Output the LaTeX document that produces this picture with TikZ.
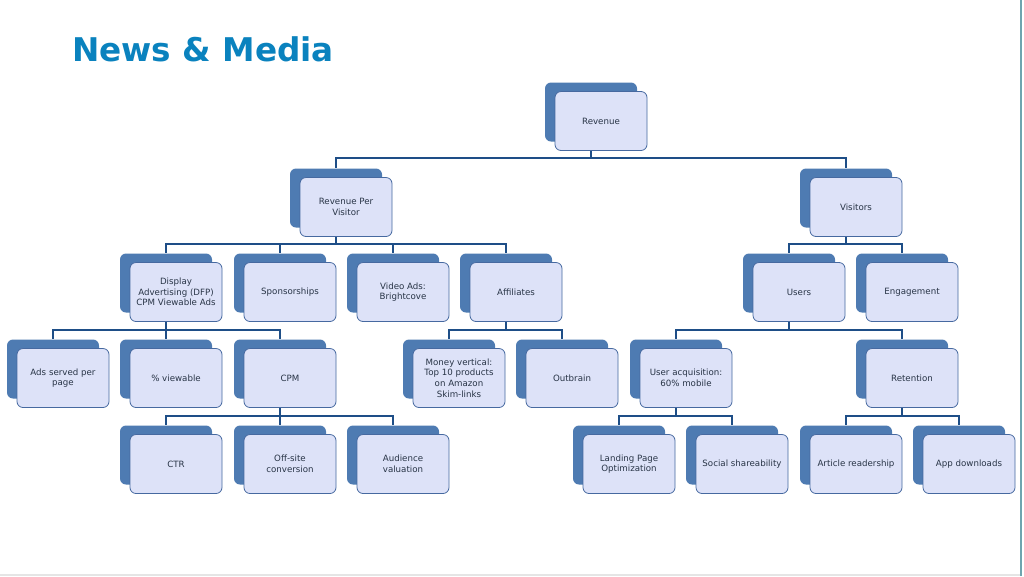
\documentclass[tikz,border=0pt]{standalone}
\usepackage{fontspec}
\setmainfont{DejaVu Sans}
\usetikzlibrary{backgrounds}
\definecolor{titleblue}{RGB}{10,130,190}
\definecolor{backblue}{RGB}{78,123,178}
\definecolor{frontfill}{RGB}{221,226,248}
\definecolor{frontline}{RGB}{70,105,160}
\definecolor{connblue}{RGB}{30,78,135}
\definecolor{txt}{RGB}{40,52,70}
\definecolor{edgeteal}{RGB}{110,165,175}
\tikzset{
  backbox/.style={fill=backblue, rounded corners=4.5pt, minimum width=69pt, minimum height=44.25pt, inner sep=0pt},
  frontbox/.style={fill=frontfill, draw=frontline, line width=0.6pt, rounded corners=4.5pt, minimum width=69pt, minimum height=44.25pt, inner sep=1pt, align=center, text=txt, font=\fontsize{6.5}{8}\selectfont},
  conn/.style={draw=connblue, line width=1.1pt},
}
\newcommand\orgbox[4]{%
  \node[backbox] (#1b) at (#2-10,#3-9) {};
  \node[frontbox] (#1) at (#2,#3) {#4};}
\begin{document}
\begin{tikzpicture}[x=0.75pt,y=-0.75pt]
\useasboundingbox (0,0) rectangle (1024,576);
\node[anchor=base west, inner sep=0pt, font=\fontsize{24.5}{28}\selectfont\bfseries, text=titleblue] (title) at (72,61) {News \& Media};
% level 1
\orgbox{rev}{601}{121}{Revenue}
% level 2
\orgbox{rpv}{346}{207}{Revenue Per\\Visitor}
\orgbox{vis}{856}{207}{Visitors}
% level 3
\orgbox{disp}{176}{292}{Display\\Advertising (DFP)\\CPM Viewable Ads}
\orgbox{spon}{290}{292}{Sponsorships}
\orgbox{vid}{403}{292}{Video Ads:\\Brightcove}
\orgbox{aff}{516}{292}{Affiliates}
\orgbox{usr}{799}{292}{Users}
\orgbox{eng}{912}{292}{Engagement}
% level 4
\orgbox{ads}{63}{378}{Ads served per\\page}
\orgbox{view}{176}{378}{\% viewable}
\orgbox{cpm}{290}{378}{CPM}
\orgbox{money}{459}{378}{Money vertical:\\Top 10 products\\on Amazon\\Skim-links}
\orgbox{outb}{572}{378}{Outbrain}
\orgbox{uacq}{686}{378}{User acquisition:\\60\% mobile}
\orgbox{ret}{912}{378}{Retention}
% level 5
\orgbox{ctr}{176}{464}{CTR}
\orgbox{off}{290}{464}{Off-site\\conversion}
\orgbox{aud}{403}{464}{Audience\\valuation}
\orgbox{land}{629}{464}{Landing Page\\Optimization}
\orgbox{soc}{742}{464}{Social shareability}
\orgbox{art}{856}{464}{Article readership}
\orgbox{app}{969}{464}{App downloads}
\coordinate (busA) at (0,158);
\coordinate (busB) at (0,244);
\coordinate (busC) at (0,330);
\coordinate (busD) at (0,416);
\begin{scope}[on background layer]
\fill[white] (0,0) rectangle (1024,576);
\draw[edgeteal, line width=0.8pt] (1021,0) -- (1021,576);
\draw[black!10, line width=0.8pt] (0,575) -- (1020,575);
\foreach \p/\c/\b in {rev/rpv/busA, rev/vis/busA,
  rpv/disp/busB, rpv/spon/busB, rpv/vid/busB, rpv/aff/busB,
  vis/usr/busB, vis/eng/busB,
  disp/ads/busC, disp/view/busC, disp/cpm/busC,
  aff/money/busC, aff/outb/busC,
  usr/uacq/busC, usr/ret/busC,
  cpm/ctr/busD, cpm/off/busD, cpm/aud/busD,
  uacq/land/busD, uacq/soc/busD,
  ret/art/busD, ret/app/busD}
  \draw[conn] (\p b.south) -- (\p b.south |- \b) -| (\c b.north);
\end{scope}
\end{tikzpicture}
\end{document}
